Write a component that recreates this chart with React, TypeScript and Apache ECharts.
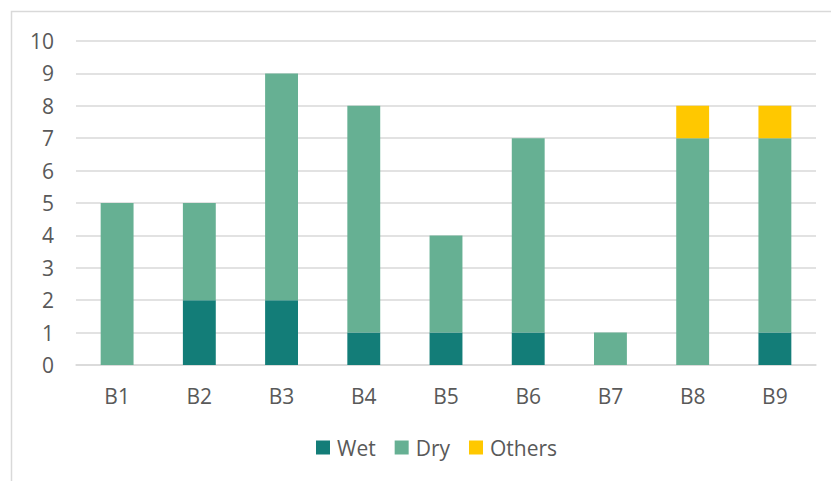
import React, { useEffect, useRef } from "react";
import * as echarts from "echarts";

const categories = ["B1", "B2", "B3", "B4", "B5", "B6", "B7", "B8", "B9"];
const wet = [0, 2, 2, 1, 1, 1, 0, 0, 1];
const dry = [5, 3, 7, 7, 3, 6, 1, 7, 6];
const others = [0, 0, 0, 0, 0, 0, 0, 1, 1];

const seriesNames = ["Wet", "Dry", "Others"];
const seriesColors = ["#137d78", "#66b093", "#ffc800"];

const FONT = "'Open Sans', 'Liberation Sans', Arial, sans-serif";
const TEXT = "#595959";

export default function App() {
  const ref = useRef<HTMLDivElement>(null);

  useEffect(() => {
    if (!ref.current) return;
    const chart = echarts.init(ref.current, undefined, { renderer: "svg" });
    const values = [wet, dry, others];
    chart.setOption({
      animation: false,
      textStyle: { fontFamily: FONT, color: TEXT },
      graphic: [
        {
          type: "rect",
          shape: { x: 11.5, y: 11.5, width: 840, height: 490 },
          style: { fill: "none", stroke: "#d9d9d9", lineWidth: 1.5 },
          silent: true,
        },
      ],
      grid: { left: 76, right: 15, top: 41, bottom: 116, containLabel: false },
      legend: {
        top: 432,
        left: 311,
        itemWidth: 14,
        itemHeight: 14,
        itemGap: 19,
        icon: "rect",
        textStyle: { fontFamily: FONT, color: TEXT, fontSize: 21, padding: [0, 0, 0, 2] },
        data: seriesNames,
      },
      xAxis: {
        type: "category",
        data: categories,
        axisLine: { lineStyle: { color: "#d9d9d9", width: 1.5 } },
        axisTick: { show: false },
        axisLabel: { color: TEXT, fontSize: 21, margin: 20, fontFamily: FONT },
      },
      yAxis: {
        type: "value",
        min: 0,
        max: 10,
        interval: 1,
        axisLine: { show: false },
        axisTick: { show: false },
        axisLabel: { color: TEXT, fontSize: 21, margin: 22, fontFamily: FONT },
        splitLine: { lineStyle: { color: "#d9d9d9", width: 1.5 } },
      },
      series: seriesNames.map((name, i) => ({
        name,
        type: "bar",
        stack: "total",
        barWidth: "40%",
        data: values[i],
        itemStyle: { color: seriesColors[i] },
      })),
    });
    return () => chart.dispose();
  }, []);

  return (
    <div
      ref={ref}
      style={{ position: "fixed", left: 0, top: 0, width: 831, height: 481, background: "#fff" }}
    />
  );
}
